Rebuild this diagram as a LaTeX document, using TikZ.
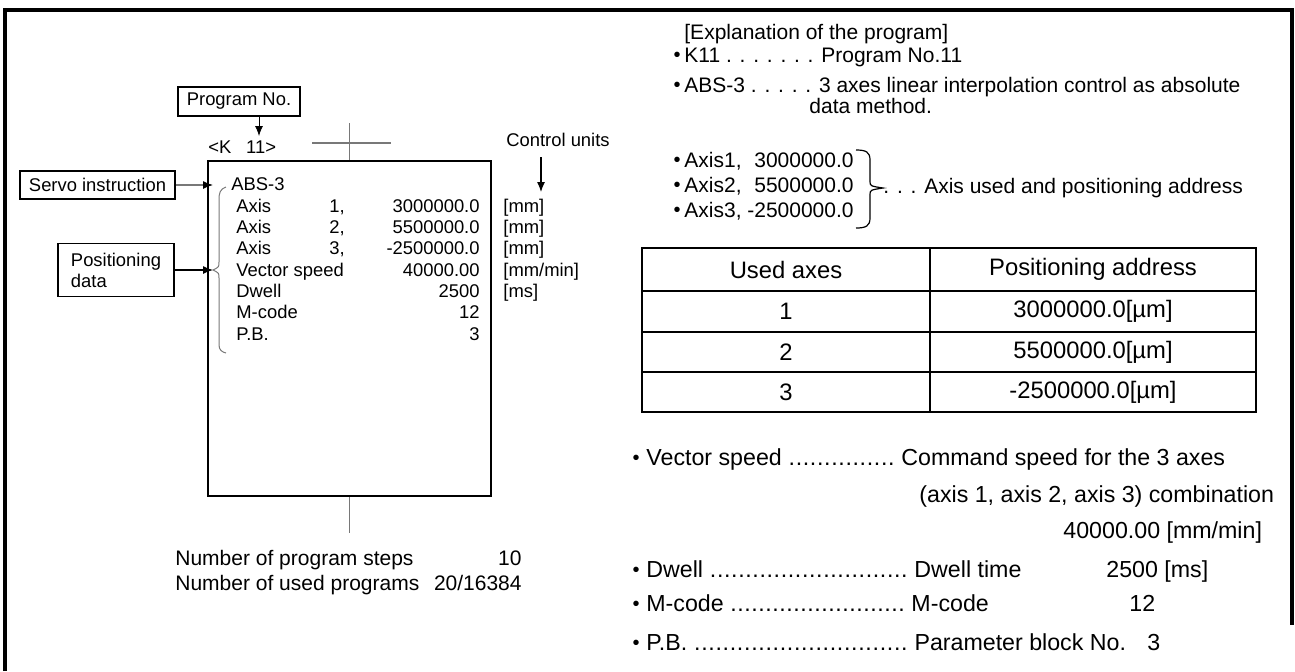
\documentclass[tikz,border=0pt]{standalone}
\usepackage{fontspec}
\setmainfont{Liberation Sans}
\usepackage{tikz}
\usetikzlibrary{arrows.meta,positioning}
\definecolor{linegray}{RGB}{120,120,120}

% label followed by tight dot leaders, in a box of fixed width
\newcommand\leadto[2]{\makebox[#1][l]{#2\ \xleaders\hbox to .3em{\hss.\hss}\hfill\ }}

\begin{document}
\begin{tikzpicture}[x=0.5pt, y=-0.5pt, >={Latex[length=5pt,width=4pt]},
  every node/.style={inner sep=0pt},
  tag/.style={draw, line width=0.8pt, font=\fontsize{9.2}{10.5}\selectfont},
  code/.style={font=\fontsize{9.2}{11}\selectfont},
  note/.style={font=\fontsize{10.5}{12.6}\selectfont},
  cell/.style={font=\fontsize{11.9}{14}\selectfont},
  expl/.style={font=\fontsize{11.6}{14}\selectfont},
  blt/.style={font=\fontsize{10}{11}\selectfont}]
\useasboundingbox (0,0) rectangle (1295,671);

% outer frame
\draw[line width=2pt] (5,671) -- (5,9.5) -- (1292,9.5) -- (1292,625);

% program block
\node[draw, line width=1pt, minimum width=141.5pt, minimum height=167.5pt] (prog) at (349.5,328.5) {};
\draw[linegray, line width=0.6pt] (prog.north) -- ++(0,-37);
\draw[linegray, line width=0.6pt] (312,143) -- (391,143);
\draw[linegray, line width=0.6pt] (prog.south) -- ++(0,36);

\node[tag, minimum width=61pt, minimum height=14.5pt] (pno) at (239,101.5) {Program No.};
\node[code, anchor=mid west] (knum) at (208,148) {<K\hspace{7.4pt}11>};
\coordinate (ktip) at (259,136);
\draw[->] (pno.south -| ktip) -- (ktip);

\node[tag, minimum width=77.5pt, minimum height=14pt] (servo) at (97.5,185) {Servo instruction};
\node[tag, minimum width=58pt, minimum height=26.5pt, align=left] (posdata) at (116,270) {Positioning\\data};
\coordinate (abstip) at (213,185);
\coordinate (bracetip) at (213,270);
\draw[linegray, line width=0.6pt, -{Latex[length=5pt,width=4pt,color=black]}] (servo.east) -- (abstip);
\draw[->, line width=0.6pt] (posdata.east) -- (bracetip);
\draw[linegray, line width=0.5pt] (226,187) .. controls (220,189) and (219,193) .. (219,200) -- (219,262)
  .. controls (219,267) .. (bracetip) .. controls (219,273) .. (219,278) -- (219,345)
  .. controls (219,350) and (222,352) .. (226,353);

\node[code, anchor=mid west] (abs) at (231,185) {ABS-3};
\foreach \lab/\num/\val/\unit [count=\i] in {Axis/{1,}/3000000.0/{[mm]}, Axis/{2,}/5500000.0/{[mm]},
    Axis/{3,}/-2500000.0/{[mm]}, Vector speed//40000.00/{[mm/min]}, Dwell//2500/{[ms]},
    M-code//12/, P.B.//3/} {
  \pgfmathsetmacro\ry{207+21.33*(\i-1)}
  \node[code, anchor=mid west] (lab\i) at (236,\ry) {\lab};
  \node[code, anchor=mid west] (num\i) at (329,\ry) {\num};
  \node[code, anchor=mid east] (val\i) at (480,\ry) {\val};
  \node[code, anchor=mid west] (unit\i) at (503,\ry) {\unit};
}

\node[code] (cu) at (558,140) {Control units};
\coordinate (unittip) at (541,192);
\draw[->, line width=0.6pt] ([yshift=-5pt]cu.south -| unittip) -- (unittip);

\node[note, anchor=mid west] (steps) at (175,560) {Number of program steps};
\node[note, anchor=mid east] (stepsn) at (522,560) {10};
\node[note, anchor=mid west] (used) at (175,585) {Number of used programs};
\node[note, anchor=mid east] (usedn) at (522,585) {20/16384};

% explanation
\node[note, anchor=mid west] (title) at (684,34) {[Explanation of the program]};
\node[blt] (b1) at (677,57) {•};
\node[note, anchor=mid west] (k11) at (684,57) {K11 . . . . . . . Program No.11};
\node[blt] (b2) at (677,87) {•};
\node[note, anchor=mid west] (abs3) at (684,87) {ABS-3 . . . . . 3 axes linear interpolation control as absolute};
\node[note, anchor=mid west] (abs3b) at (809,108) {data method.};
\foreach \ax/\v [count=\i] in {{Axis1,}/3000000.0, {Axis2,}/5500000.0, {Axis3,}/-2500000.0} {
  \pgfmathsetmacro\ry{162+25*(\i-1)}
  \node[blt] (ab\i) at (677,\ry) {•};
  \node[note, anchor=mid west] (ax\i) at (684,\ry) {\ax};
  \node[note, anchor=mid east] (av\i) at (854,\ry) {\v};
}
\coordinate (axtip) at (883,188);
\draw[line width=0.6pt] (856,150) .. controls (866,150) and (870,152) .. (870,160) -- (870,181)
  .. controls (870,186) .. (axtip) .. controls (870,190) .. (870,195) -- (870,218)
  .. controls (870,226) and (866,228) .. (856,228);
\node[note, anchor=mid west] (axnote) at (axtip) {. . . Axis used and positioning address};

% table
\draw[line width=1.4pt] (642,248) rectangle (1256,412);
\foreach \ry in {291,332,372} \draw[line width=1.4pt] (642,\ry) -- (1256,\ry);
\draw[line width=1pt] (930,248) -- (930,412);
\node[cell] (h1) at (786,269.5) {Used axes};
\node[cell] (h2) at (1093,269.5) {Positioning address};
\foreach \a/\p/\ry in {1/3000000.0/311.5, 2/5500000.0/352, 3/-2500000.0/392} {
  \node[cell] (ta\a) at (786,\ry) {\a};
  \node[cell] (tp\a) at (1093,\ry) {\p[µm]};
}

% items
\foreach \ry [count=\i] in {460,572,606,645} \node[blt] (eb\i) at (636,\ry) {•};
\node[expl, anchor=mid west] (vs) at (646,460) {\leadto{127.5pt}{Vector speed}Command speed for the 3 axes};
\node[expl, anchor=mid west] (vs2) at (919,497) {(axis 1, axis 2, axis 3) combination};
\node[expl, anchor=mid west] (vs3) at (1063,533) {40000.00 [mm/min]};
\node[expl, anchor=mid west] (dw) at (646,572) {\leadto{134pt}{Dwell}Dwell time};
\node[expl, anchor=mid west] (dwv) at (1106,572) {2500 [ms]};
\node[expl, anchor=mid west] (mc) at (646,606) {\leadto{132.5pt}{M-code}M-code};
\node[expl, anchor=mid west] (mcv) at (1129,606) {12};
\node[expl, anchor=mid west] (pb) at (646,645) {\leadto{134pt}{P.B.}Parameter block No.};
\node[expl, anchor=mid west] (pbv) at (1147,645) {3};
\end{tikzpicture}
\end{document}
